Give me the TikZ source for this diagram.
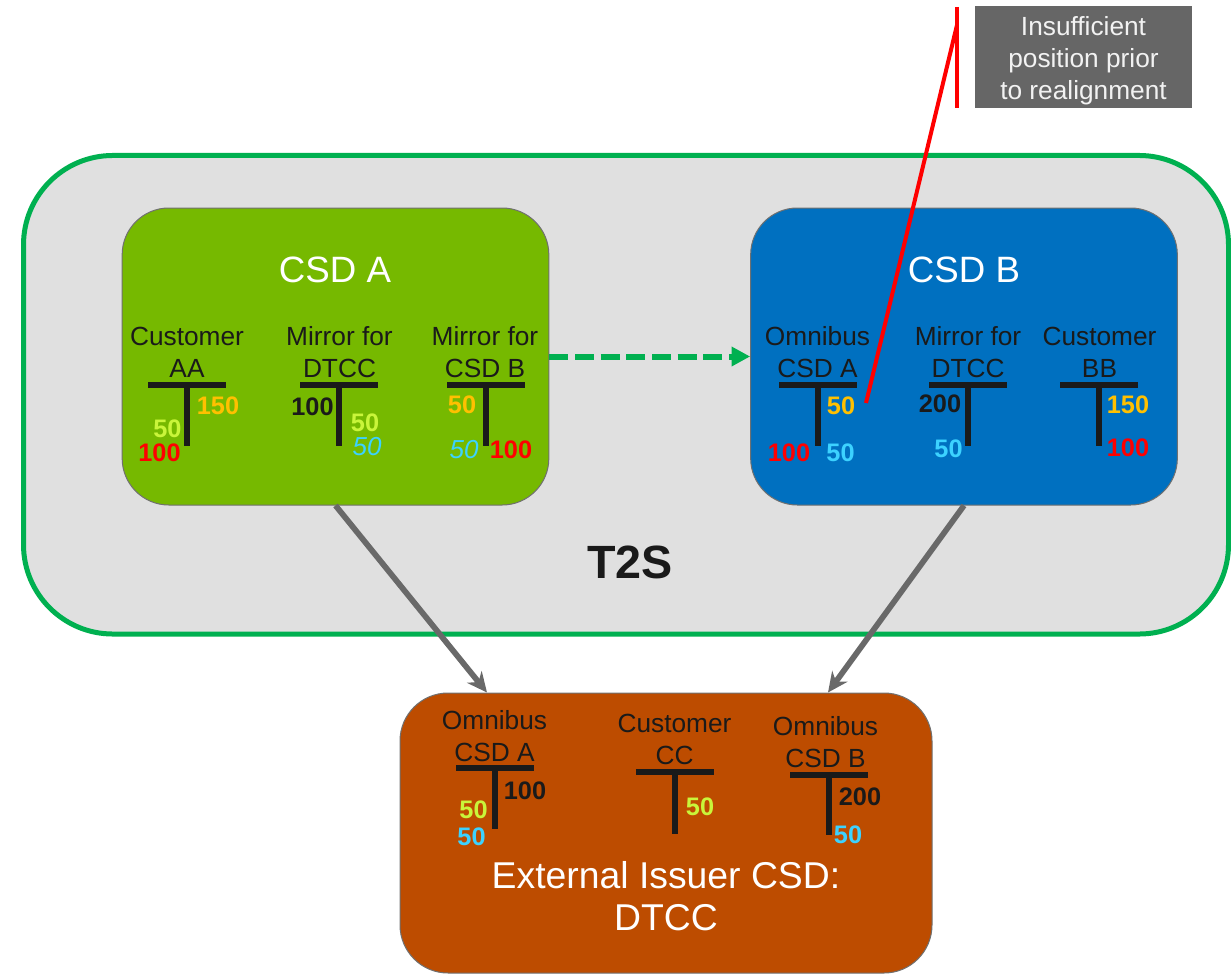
\documentclass[tikz,border=0pt]{standalone}
\usepackage{fontspec}
\setmainfont{Liberation Sans}
\usetikzlibrary{arrows.meta,calc}
\definecolor{t2sfill}{HTML}{E0E0E0}
\definecolor{t2sline}{HTML}{00B050}
\definecolor{csdagreen}{HTML}{76B900}
\definecolor{csdbblue}{HTML}{0070C0}
\definecolor{dtccbrown}{HTML}{BD4C00}
\definecolor{boxline}{HTML}{707070}
\definecolor{labelc}{HTML}{1A1A1A}
\definecolor{arrowgrey}{HTML}{696969}
\definecolor{calloutgrey}{HTML}{666666}
\definecolor{numorange}{HTML}{FFC000}
\definecolor{numlime}{HTML}{C9F53A}
\definecolor{numcyan}{HTML}{3CD2FF}
\definecolor{numred}{HTML}{FF0000}
\newcommand{\tacc}[3]{%
  \draw[tbar] ({#1-39},#2) -- ({#1+39},#2);
  \draw[tbar] (#1,#2) -- (#1,{#2+#3});}
\begin{document}
\begin{tikzpicture}[x=0.75pt,y=-0.75pt,
  t2sbox/.style={draw=t2sline, fill=t2sfill, line width=3.75pt, rounded corners=67pt,
     minimum width=903.75pt, minimum height=358.9pt, inner sep=0pt},
  csdbox/.style={draw=boxline, line width=0.75pt, rounded corners=35pt,
     minimum width=320pt, minimum height=222.75pt, inner sep=0pt},
  dtccbox/.style={draw=boxline, fill=dtccbrown, line width=0.75pt, rounded corners=36pt,
     minimum width=399pt, minimum height=210pt, inner sep=0pt},
  calloutbox/.style={fill=calloutgrey, minimum width=162.75pt, minimum height=76.5pt, inner sep=0pt},
  callouttext/.style={text=white!95!black, align=center, inner sep=0pt,
     font=\fontsize{19.7}{24}\selectfont},
  lbl/.style={align=center, text=labelc, inner sep=0pt, font=\fontsize{19.7}{24}\selectfont},
  title/.style={text=white, inner sep=0pt, font=\fontsize{27.5}{30}\selectfont, align=center},
  num/.style={inner sep=0pt, font=\fontsize{19}{22}\selectfont\bfseries},
  inum/.style={inner sep=0pt, font=\fontsize{19.5}{22}\selectfont\itshape},
  tbar/.style={draw=labelc, line width=3.9pt},
  greyarrow/.style={draw=arrowgrey, line width=4.3pt, -{Stealth[length=15pt,width=14pt]}},
  dasharrow/.style={draw=t2sline, line width=4.5pt, dash pattern=on 14.25pt off 5pt,
     -{Triangle[length=14pt,width=14pt]}},
  calloutline/.style={draw=red, line width=3pt}
]
\useasboundingbox (0,0) rectangle (1231,974);

% T2S platform
\node[t2sbox] (t2s) at (626,394.75) {};
\node[text=labelc, inner sep=0pt, font=\fontsize{35}{40}\selectfont\bfseries] (t2sT) at (630,562) {T2S};

% CSD A
\node[csdbox, fill=csdagreen] (csda) at (335.5,356.5) {};
\node[title] (csdaT) at (335,270) {CSD A};
\node[lbl] (aaL) at (187,352) {Customer\\AA};
\node[lbl] (adL) at (339.5,352) {Mirror for\\DTCC};
\node[lbl] (abL) at (485,352) {Mirror for\\CSD B};
\tacc{187}{385}{61}
\tacc{339}{385}{61}
\tacc{486}{385}{61}
\node[num, text=numorange] (aa1) at (218,406) {150};
\node[num, text=numlime] (aa2) at (167.5,429) {50};
\node[num, text=numred] (aa3) at (159.5,453) {100};
\node[num, text=labelc] (ad1) at (312.5,407) {100};
\node[num, text=numlime] (ad2) at (365,423) {50};
\node[inum, text=numcyan] (ad3) at (367,447) {50};
\node[num, text=numorange] (ab1) at (462,405) {50};
\node[inum, text=numcyan] (ab2) at (464,450) {50};
\node[num, text=numred] (ab3) at (511,450) {100};

% CSD B
\node[csdbox, fill=csdbblue] (csdb) at (964,356.5) {};
\node[title] (csdbT) at (964,270) {CSD B};
\node[lbl] (boL) at (817.5,352) {Omnibus\\CSD A};
\node[lbl] (bdL) at (968,352) {Mirror for\\DTCC};
\node[lbl] (bbL) at (1099.5,352) {Customer\\BB};
\tacc{818}{385}{61}
\tacc{968}{385}{61}
\tacc{1099}{385}{61}
\node[num, text=numorange] (bo1) at (841,405.5) {50};
\node[num, text=numred] (bo2) at (789,452.5) {100};
\node[num, text=numcyan] (bo3) at (840.5,452.5) {50};
\node[num, text=labelc] (bd1) at (940,403.5) {200};
\node[num, text=numcyan] (bd2) at (948.5,448.5) {50};
\node[num, text=numorange] (bb1) at (1128,404.5) {150};
\node[num, text=numred] (bb2) at (1128,448) {100};

% DTCC
\node[dtccbox] (dtcc) at (666,833) {};
\node[title, font=\fontsize{28}{30}\selectfont] (dtccT) at (666,896) {External Issuer CSD:\\[1pt]DTCC};
\node[lbl] (daL) at (494.5,736) {Omnibus\\CSD A};
\node[lbl] (dcL) at (674.5,739.5) {Customer\\CC};
\node[lbl] (dbL) at (825.5,742) {Omnibus\\CSD B};
\tacc{495}{768}{61}
\tacc{675}{772}{62}
\tacc{829}{775}{60}
\node[num, text=labelc] (da1) at (525,791) {100};
\node[num, text=numlime] (da2) at (473.5,810) {50};
\node[num, text=numcyan] (da3) at (471.5,836.5) {50};
\node[num, text=numlime] (dc1) at (700,807) {50};
\node[num, text=labelc] (db1) at (860,797) {200};
\node[num, text=numcyan] (db2) at (848,835) {50};

% connectors
\draw[dasharrow] (csda.east) -- (csdb.west);
\draw[greyarrow] (csda.south) -- ($(dtcc.north)+(-179,0)$);
\draw[greyarrow] (csdb.south) -- ($(dtcc.north)+(162,0)$);

% callout
\node[calloutbox] (callout) at (1083.5,57) {};
\node[callouttext] (calloutT) at (1083.5,60.5) {Insufficient\\position prior\\to realignment};
\coordinate (ctop) at (957,7);
\coordinate (cbot) at (957,108);
\coordinate (cknee) at (957,25);
\coordinate (ctip) at (866,403);
\draw[calloutline] (ctop) -- (cbot);
\draw[calloutline] (cknee) -- (ctip);
\end{tikzpicture}
\end{document}
